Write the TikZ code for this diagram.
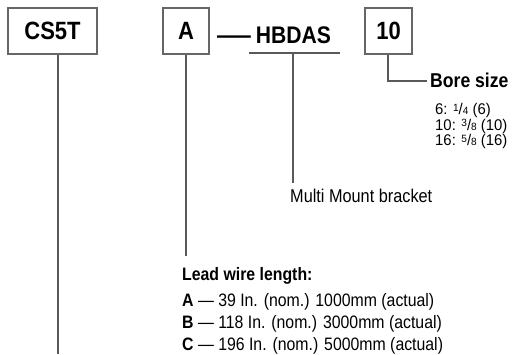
\documentclass[tikz,border=0pt]{standalone}
\usepackage{fontspec}
\setmainfont[FakeStretch=0.88]{Liberation Sans}
\newfontfamily\plainfont[FakeStretch=0.96]{Liberation Sans}
\begin{document}
\begin{tikzpicture}[x=1pt,y=-1pt,
  box/.style={draw=black!60,line width=1.3pt,minimum height=46pt,inner sep=0pt,
    font=\fontsize{25}{25}\selectfont\bfseries},
  wire/.style={draw=black!65,line width=1.4pt},
  small/.style={font=\fontsize{18}{18}\selectfont,inner sep=0pt,anchor=base west},
  smallb/.style={font=\fontsize{18}{18}\selectfont\bfseries,inner sep=0pt,anchor=base west},
  fr/.style={font=\plainfont\fontsize{15.5}{15.5}\selectfont,inner sep=0pt,anchor=base west}]
\useasboundingbox (0,0) rectangle (517,354);
\newcommand\myfrac[2]{\raisebox{0.4ex}{\fontsize{10.5}{10.5}\selectfont #1}/{\fontsize{10.5}{10.5}\selectfont #2}}
% boxes
\node[box,minimum width=89pt] (cs) at (52.5,31) {CS5T};
\node[box,minimum width=46pt] (a) at (186,31) {A};
\node[box,minimum width=47pt] (ten) at (388.5,31) {10};
\node[font=\fontsize{24}{24}\selectfont\bfseries,inner sep=0pt,anchor=base west] (hb) at (217,43) {\scalebox{1.6}[1]{—}\hspace{5pt}HBDAS};
% ends of connectors
\coordinate (csend) at (58,354);
\coordinate (aend) at (186,256);
\coordinate (ul1) at (249,53);
\coordinate (ul2) at (340,53);
\coordinate (ulm) at (293,53);
\coordinate (mmend) at (293,183);
\coordinate (bcorner) at (388,81);
\coordinate (bend) at (427,81);
% connectors
\draw[wire] (cs.south -| csend) -- (csend);
\draw[wire] (a.south) -- (aend);
\draw[wire] (ul1) -- (ul2);
\draw[wire] (ulm) -- (mmend);
\draw[wire] (ten.south -| bcorner) -- (bcorner) -- (bend);
% labels
\node[font=\fontsize{20}{20}\selectfont\bfseries,inner sep=0pt,anchor=base west] (bore) at (430,87) {Bore size};
\node[fr] (b6) at (435,114.5) {6: \myfrac{1}{4} (6)};
\node[fr] (b10) at (435,130) {10: \myfrac{3}{8} (10)};
\node[fr] (b16) at (435,145.5) {16: \myfrac{5}{8} (16)};
\node[small,font=\fontsize{18.5}{18.5}\selectfont] (mm) at (290,202) {Multi Mount bracket};
\node[smallb] (lead) at (182,280) {Lead wire length:};
\node[small] (la) at (182,306) {\textbf{A} — 39 In. (nom.) 1000mm (actual)};
\node[small] (lb) at (182,328) {\textbf{B} — 118 In. (nom.) 3000mm (actual)};
\node[small] (lc) at (182,350) {\textbf{C} — 196 In. (nom.) 5000mm (actual)};
\end{tikzpicture}
\end{document}
